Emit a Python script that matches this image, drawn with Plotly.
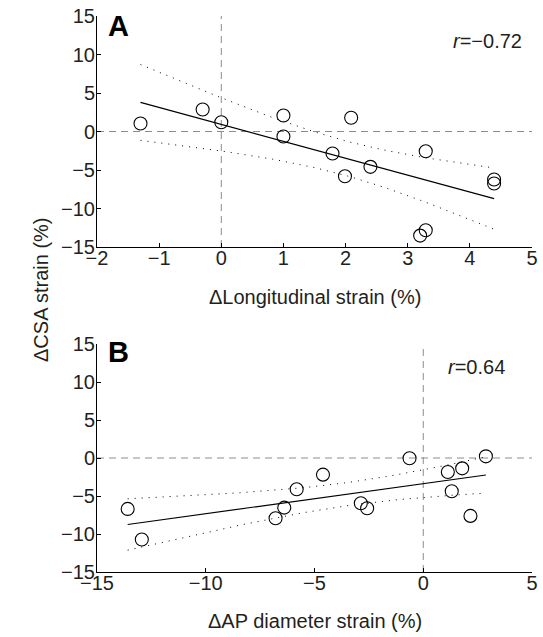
import numpy as np
import plotly.graph_objects as go

# Panel A data: ΔLongitudinal strain (%) vs ΔCSA strain (%)
a_x = [-1.30, -0.30, 0.00, 1.00, 1.00, 2.09, 1.79, 1.99, 2.40, 3.29, 4.39, 4.39, 3.20, 3.29]
a_y = [1.04, 2.86, 1.21, 2.08, -0.65, 1.78, -2.86, -5.81, -4.59, -2.56, -6.24, -6.76, -13.52, -12.83]
a_r = "−0.72"

# Panel B data: ΔAP diameter strain (%) vs ΔCSA strain (%)
b_x = [-13.59, -12.94, -6.79, -6.39, -5.82, -4.61, -2.87, -2.58, -0.63, 1.13, 1.79, 1.31, 2.17, 2.88]
b_y = [-6.70, -10.72, -7.93, -6.53, -4.12, -2.19, -5.96, -6.61, -0.04, -1.84, -1.36, -4.38, -7.62, 0.22]
b_r = "0.64"

y_ticks = [-15, -10, -5, 0, 5, 10, 15]
a_x_ticks = [-2, -1, 0, 1, 2, 3, 4, 5]
b_x_ticks = [-15, -10, -5, 0, 5]

T_975 = 2.179  # t quantile, df = 12

TXT = "#231f20"
FONT = "Liberation Sans, Arial, sans-serif"
FS = 20


def fit_band(x, y):
    x = np.asarray(x, float)
    y = np.asarray(y, float)
    n = len(x)
    b1, b0 = np.polyfit(x, y, 1)
    xs = np.linspace(x.min(), x.max(), 100)
    yh = b0 + b1 * xs
    res = y - (b0 + b1 * x)
    s = np.sqrt(np.sum(res ** 2) / (n - 2))
    sxx = np.sum((x - x.mean()) ** 2)
    hw = T_975 * s * np.sqrt(1.0 / n + (xs - x.mean()) ** 2 / sxx)
    return xs, yh, yh - hw, yh + hw


fig = go.Figure()

for xv, yv, xa, ya in [(a_x, a_y, "x", "y"), (b_x, b_y, "x2", "y2")]:
    xs, yh, lo, hi = fit_band(xv, yv)
    for band in (lo, hi):
        fig.add_trace(go.Scatter(x=xs, y=band, mode="lines", xaxis=xa, yaxis=ya,
                                 line=dict(color="black", width=1, dash="1px,6px"),
                                 showlegend=False, hoverinfo="skip"))
    fig.add_trace(go.Scatter(x=[xs[0], xs[-1]], y=[yh[0], yh[-1]], mode="lines",
                             xaxis=xa, yaxis=ya, line=dict(color="black", width=1.2),
                             showlegend=False))
    fig.add_trace(go.Scatter(x=xv, y=yv, mode="markers", xaxis=xa, yaxis=ya,
                             marker=dict(symbol="circle-open", size=13,
                                         color="black", line=dict(width=1.1)),
                             showlegend=False))

axis_common = dict(showline=True, linecolor="black", linewidth=1, mirror=False,
                   ticks="inside", ticklen=4, tickcolor="black", showgrid=False,
                   zeroline=False, automargin=False,
                   tickfont=dict(family=FONT, size=FS, color=TXT))
x_extra = dict(ticklabelstandoff=-7)
y_extra = dict(ticklabelstandoff=-3)

fig.update_layout(
    width=543, height=637,
    margin=dict(l=0, r=0, t=0, b=0, pad=0),
    paper_bgcolor="white", plot_bgcolor="white",
    font=dict(family=FONT, color=TXT),
    xaxis=dict(domain=[97 / 543, 532 / 543], range=[-2, 5], tickvals=a_x_ticks,
               anchor="y", **axis_common, **x_extra),
    yaxis=dict(domain=[(637 - 247) / 637, (637 - 16) / 637], range=[-15, 15],
               tickvals=y_ticks, anchor="x", **axis_common, **y_extra),
    xaxis2=dict(domain=[97 / 543, 532 / 543], range=[-15, 5], tickvals=b_x_ticks,
                anchor="y2", **axis_common, **x_extra),
    yaxis2=dict(domain=[(637 - 572) / 637, (637 - 344) / 637], range=[-15, 15],
                tickvals=y_ticks, anchor="x2", **axis_common, **y_extra),
)

dash_line = dict(color="#8c8c8c", width=1, dash="7px,5px")
fig.add_shape(type="line", xref="x", yref="y domain", x0=0, x1=0, y0=0, y1=1, line=dash_line, layer="below")
fig.add_shape(type="line", xref="x domain", yref="y", x0=0, x1=1, y0=0, y1=0, line=dash_line, layer="below")
fig.add_shape(type="line", xref="x2", yref="y2 domain", x0=0, x1=0, y0=0, y1=1, line=dash_line, layer="below")
fig.add_shape(type="line", xref="x2 domain", yref="y2", x0=0, x1=1, y0=0, y1=0, line=dash_line, layer="below")

# panel letters
fig.add_annotation(text="<b>A</b>", xref="paper", yref="paper", x=106 / 543, y=1 - 26 / 637,
                   xanchor="left", yanchor="middle", showarrow=False,
                   font=dict(family=FONT, size=29, color="black"))
fig.add_annotation(text="<b>B</b>", xref="paper", yref="paper", x=106 / 543, y=1 - 352 / 637,
                   xanchor="left", yanchor="middle", showarrow=False,
                   font=dict(family=FONT, size=29, color="black"))

# r values
fig.add_annotation(text="<i>r</i>=" + a_r, xref="paper", yref="paper", x=524 / 543, y=1 - 41 / 637,
                   xanchor="right", yanchor="middle", showarrow=False,
                   font=dict(family=FONT, size=FS, color=TXT))
fig.add_annotation(text="<i>r</i>=" + b_r, xref="paper", yref="paper", x=507 / 543, y=1 - 367 / 637,
                   xanchor="right", yanchor="middle", showarrow=False,
                   font=dict(family=FONT, size=FS, color=TXT))

# axis titles
fig.add_annotation(text="\u0394Longitudinal strain (%)", xref="paper", yref="paper",
                   x=315 / 543, y=1 - 297 / 637, xanchor="center", yanchor="middle",
                   showarrow=False, font=dict(family=FONT, size=FS, color=TXT))
fig.add_annotation(text="\u0394AP diameter strain (%)", xref="paper", yref="paper",
                   x=315 / 543, y=1 - 621 / 637, xanchor="center", yanchor="middle",
                   showarrow=False, font=dict(family=FONT, size=FS, color=TXT))
fig.add_annotation(text="\u0394CSA strain (%)", xref="paper", yref="paper",
                   x=41 / 543, y=1 - 290 / 637, xanchor="center", yanchor="middle",
                   textangle=-90, showarrow=False, font=dict(family=FONT, size=FS, color=TXT))

fig.write_html("out.html", config={"displayModeBar": False},
               post_script="document.body.style.margin='0px';document.body.style.overflow='hidden';")
